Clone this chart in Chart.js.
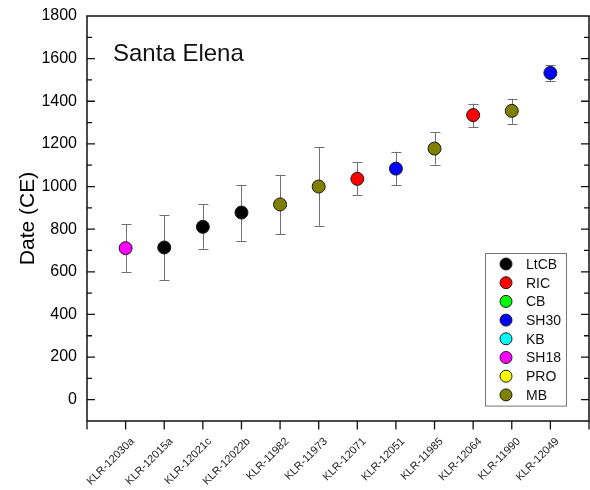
<!DOCTYPE html>
<html>
<head>
<meta charset="utf-8">
<script src="https://cdn.jsdelivr.net/npm/chart.js@4.4.0/dist/chart.umd.min.js"></script>
<style>
  html, body { margin: 0; padding: 0; background: #fff; }
  canvas { display: block; }
</style>
</head>
<body>
<canvas id="c" width="590" height="490"></canvas>
<script>
// Radiocarbon samples, ordered by calibrated date
const sampleIds = ['KLR-12030a', 'KLR-12015a', 'KLR-12021c', 'KLR-12022b', 'KLR-11982', 'KLR-11973',
                   'KLR-12071', 'KLR-12051', 'KLR-11985', 'KLR-12064', 'KLR-11990', 'KLR-12049'];
const dates    = [711, 714, 811, 878, 916, 1000, 1036, 1084, 1178, 1335, 1355, 1533];
const dateLow  = [597, 561, 708, 745, 777, 816, 958, 1006, 1103, 1278, 1294, 1495];
const dateHigh = [824, 867, 916, 1008, 1055, 1186, 1114, 1163, 1255, 1389, 1412, 1570];
const sampleGroup = ['SH18', 'LtCB', 'LtCB', 'LtCB', 'MB', 'MB', 'RIC', 'SH30', 'MB', 'RIC', 'MB', 'SH30'];

// Ceramic groups shown in the key
const groupNames  = ['LtCB', 'RIC', 'CB', 'SH30', 'KB', 'SH18', 'PRO', 'MB'];
const groupColors = ['#000000', '#ff0000', '#00ff00', '#0000ff', '#00ffff', '#ff00ff', '#ffff00', '#808000'];

const siteName = 'Santa Elena';
const yAxisTitle = 'Date (CE)';

const FONT = "'Liberation Sans', Arial, sans-serif";
Chart.defaults.font.family = FONT;
Chart.defaults.color = '#000';

const points = sampleIds.map((id, i) => ({ x: i + 1, y: dates[i], lo: dateLow[i], hi: dateHigh[i] }));

const datasets = groupNames.map((g, gi) => ({
  label: g,
  data: points.filter((p, i) => sampleGroup[i] === g),
  backgroundColor: groupColors[gi],
  borderColor: '#1a1a1a',
  borderWidth: 1,
  pointRadius: 6.5,
  pointHoverRadius: 6.5
}));

// Vertical error bars with caps, drawn under the markers
const errorBars = {
  id: 'errorBars',
  beforeDatasetsDraw(chart) {
    const { ctx, scales: { x: xs, y: ys } } = chart;
    ctx.save();
    ctx.strokeStyle = '#707070';
    ctx.lineWidth = 1;
    chart.data.datasets.forEach(ds => {
      ds.data.forEach(p => {
        const x = Math.round(xs.getPixelForValue(p.x)) + 0.5;
        const yl = ys.getPixelForValue(p.lo);
        const yh = ys.getPixelForValue(p.hi);
        ctx.beginPath();
        ctx.moveTo(x, yl); ctx.lineTo(x, yh);
        ctx.moveTo(x - 5, Math.round(yl) + 0.5); ctx.lineTo(x + 5, Math.round(yl) + 0.5);
        ctx.moveTo(x - 5, Math.round(yh) + 0.5); ctx.lineTo(x + 5, Math.round(yh) + 0.5);
        ctx.stroke();
      });
    });
    ctx.restore();
  }
};

// Box frame with inward ticks on left/right and outward ticks along the bottom
const frame = {
  id: 'frame',
  afterDatasetsDraw(chart) {
    const { ctx, chartArea: a, scales: { x: xs, y: ys } } = chart;
    ctx.save();
    ctx.strokeStyle = '#111';
    ctx.lineWidth = 1.5;
    ctx.strokeRect(a.left, a.top, a.right - a.left, a.bottom - a.top);
    ctx.lineWidth = 1.3;
    ctx.beginPath();
    ys.ticks.forEach(t => {
      const y = ys.getPixelForValue(t.value);
      if (y <= a.top + 1 || y >= a.bottom - 1) return;
      const major = t.value % 200 === 0;
      const len = major ? 8 : 5;
      ctx.moveTo(a.left, y); ctx.lineTo(a.left + len, y);
      ctx.moveTo(a.right, y); ctx.lineTo(a.right - len, y);
    });
    xs.ticks.forEach(t => {
      const x = xs.getPixelForValue(t.value);
      ctx.moveTo(x, a.bottom); ctx.lineTo(x, a.bottom + 8.5);
    });
    ctx.stroke();

    // site name inside the plot
    ctx.fillStyle = '#111';
    ctx.font = '24px ' + FONT;
    ctx.textBaseline = 'alphabetic';
    ctx.textAlign = 'left';
    ctx.fillText(siteName, a.left + 26, a.top + 45);
    ctx.restore();
  }
};

// Group key in the lower right of the plot
const groupKey = {
  id: 'groupKey',
  afterDraw(chart) {
    const { ctx, chartArea: a } = chart;
    const left = a.right - 104, top = a.top + 237, w = 81, rowH = 18.7;
    const h = rowH * chart.data.datasets.length + 3;
    ctx.save();
    ctx.fillStyle = '#fff';
    ctx.fillRect(left, top, w, h);
    ctx.strokeStyle = '#777';
    ctx.lineWidth = 1;
    ctx.strokeRect(left + 0.5, top + 0.5, w, h);
    ctx.font = '14px ' + FONT;
    ctx.textBaseline = 'middle';
    ctx.textAlign = 'left';
    chart.data.datasets.forEach((ds, i) => {
      const cy = top + 11 + i * rowH;
      ctx.beginPath();
      ctx.arc(left + 21, cy, 6, 0, Math.PI * 2);
      ctx.fillStyle = ds.backgroundColor;
      ctx.fill();
      ctx.strokeStyle = ds.borderColor;
      ctx.stroke();
      ctx.fillStyle = '#111';
      ctx.fillText(ds.label, left + 41, cy + 1);
    });
    ctx.restore();
  }
};

new Chart(document.getElementById('c'), {
  type: 'scatter',
  data: { datasets },
  plugins: [errorBars, frame, groupKey],
  options: {
    responsive: false,
    animation: false,
    layout: { autoPadding: false, padding: { top: 16, right: 1, left: 0, bottom: 0 } },
    plugins: { legend: { display: false }, tooltip: { enabled: false } },
    scales: {
      x: {
        type: 'linear',
        min: 0, max: 13,
        grid: { display: false, drawTicks: false },
        border: { display: false },
        afterFit(s) { s.height = 69; s.paddingLeft = 0; s.paddingRight = 0; },
        ticks: {
          stepSize: 1,
          autoSkip: false,
          minRotation: 45,
          maxRotation: 45,
          padding: 14,
          labelOffset: 7,
          color: '#222',
          font: { size: 11 },
          callback: v => sampleIds[v - 1] || ''
        }
      },
      y: {
        min: -100, max: 1800,
        grid: { display: false, drawTicks: false },
        border: { display: false },
        afterFit(s) { s.width = 87; s.paddingTop = 0; s.paddingBottom = 0; },
        title: {
          display: true,
          text: yAxisTitle,
          font: { size: 21 },
          color: '#000',
          padding: { top: 16, bottom: 0 }
        },
        ticks: {
          stepSize: 100,
          autoSkip: false,
          padding: 10,
          font: { size: 16 },
          color: '#000',
          callback: v => (v >= 0 && v % 200 === 0) ? String(v) : ''
        }
      }
    }
  }
});
</script>
</body>
</html>
